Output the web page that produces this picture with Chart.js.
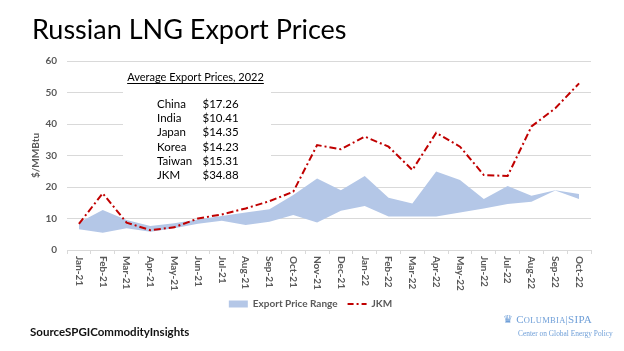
<!DOCTYPE html>
<html>
<head>
<meta charset="utf-8">
<script src="https://cdn.jsdelivr.net/npm/chart.js@4.4.0/dist/chart.umd.min.js"></script>
<style>
  body { margin: 0; background: #fff; }
  .wrap { position: relative; width: 624px; height: 351px; overflow: hidden; font-family: Lato, sans-serif; }
  canvas { position: absolute; left: 0; top: 0; }
  .title { position: absolute; left: 32px; top: 15px; font-size: 27px; line-height: 1; color: #000; white-space: nowrap; }
  .source { position: absolute; left: 30px; top: 326px; font-size: 11.5px; font-weight: bold; line-height: 1; color: #111; white-space: nowrap; }
  .logo { position: absolute; left: 503px; top: 314px; color: #6f9fd8; font-family: 'Liberation Serif', serif; white-space: nowrap; line-height: 1; }
  .logo .l1 { font-size: 11px; letter-spacing: 0.3px; }
  .logo .l1 small { font-size: 8.5px; }
  .logo .crown { font-family: 'DejaVu Sans', sans-serif; font-size: 11px; margin-right: 3px; }
  .logo .l2 { font-size: 7.4px; margin-left: 15px; margin-top: 5px; }
</style>
</head>
<body>
<div class="wrap">
  <canvas id="chart" width="624" height="351"></canvas>
  <div class="title">Russian LNG Export Prices</div>
  <div class="source">SourceSPGICommodityInsights</div>
  <div class="logo">
    <div class="l1"><span class="crown">♛</span>C<small>OLUMBIA</small>|SIPA</div>
    <div class="l2">Center on Global Energy Policy</div>
  </div>
</div>
<script>
const months = ['Jan-21', 'Feb-21', 'Mar-21', 'Apr-21', 'May-21', 'Jun-21', 'Jul-21', 'Aug-21', 'Sep-21', 'Oct-21', 'Nov-21', 'Dec-21',
                'Jan-22', 'Feb-22', 'Mar-22', 'Apr-22', 'May-22', 'Jun-22', 'Jul-22', 'Aug-22', 'Sep-22', 'Oct-22'];

// export price range, low and high edge ($/MMBtu)
const rangeLow  = [6.6, 5.5, 6.9, 5.8, 6.9, 8.3, 9.3, 7.9, 9.0, 11.1, 8.7, 12.5, 14.0, 10.6, 10.6, 10.6, 11.9, 13.2, 14.6, 15.3, 18.9, 16.2];
const rangeHigh = [8.7, 12.7, 9.5, 7.6, 8.5, 9.7, 10.8, 11.9, 12.9, 17.5, 22.7, 19.0, 23.5, 16.6, 14.8, 24.9, 22.2, 16.2, 20.3, 17.2, 19.0, 17.8];
const jkm       = [8.3, 18.0, 8.7, 6.3, 7.2, 10.0, 11.3, 13.2, 15.5, 18.5, 33.3, 32.0, 36.0, 32.8, 25.4, 37.2, 32.8, 23.8, 23.5, 39.2, 45.0, 52.9];

// box: average export prices, 2022
const avgNames  = ['China', 'India', 'Japan', 'Korea', 'Taiwan', 'JKM'];
const avgValues = [17.26, 10.41, 14.35, 14.23, 15.31, 34.88];

const yTicks = [0, 10, 20, 30, 40, 50, 60];

const greyText = '#595959';
const gridColor = '#d9d9d9';
const rangeColor = '#b4c7e7';
const jkmColor = '#c00000';

// white note box with the 2022 averages, drawn over the grid
const notePlugin = {
    id: 'note',
    beforeDatasetsDraw(chart) {
        const ctx = chart.ctx;
        ctx.save();
        ctx.fillStyle = '#fff';
        ctx.fillRect(123, 65, 148, 117);

        ctx.fillStyle = '#000';
        ctx.font = '11px Lato';
        ctx.textBaseline = 'alphabetic';
        ctx.textAlign = 'center';
        const head = 'Average Export Prices, 2022';
        ctx.fillText(head, 195.5, 81);
        const w = ctx.measureText(head).width;
        ctx.fillRect(195.5 - w / 2, 83, w, 1);

        ctx.font = '11.5px Lato';
        ctx.textAlign = 'left';
        avgNames.forEach((name, i) => {
            const y = 108 + i * 14.2;
            ctx.fillText(name, 157, y);
            ctx.fillText('$' + avgValues[i].toFixed(2), 202.5, y);
        });
        ctx.restore();
    }
};

// x labels read top to bottom, which chart.js rotation does not do
const xLabelPlugin = {
    id: 'xLabels',
    afterDraw(chart) {
        const ctx = chart.ctx;
        const xs = chart.scales.x;
        ctx.save();
        ctx.fillStyle = greyText;
        ctx.font = 'bold 10px Lato';
        ctx.textAlign = 'left';
        ctx.textBaseline = 'middle';
        xs.ticks.forEach((t, i) => {
            ctx.save();
            ctx.translate(xs.getPixelForTick(i), xs.top + 6);
            ctx.rotate(Math.PI / 2);
            ctx.fillText(months[i], 0, 0);
            ctx.restore();
        });
        ctx.restore();
    }
};

new Chart(document.getElementById('chart'), {
    type: 'line',
    data: {
        labels: months,
        datasets: [
            {
                label: 'low',
                data: rangeLow,
                borderWidth: 0,
                pointRadius: 0,
                fill: false,
                order: 2
            },
            {
                label: 'Export Price Range',
                data: rangeHigh,
                borderWidth: 0,
                pointRadius: 0,
                backgroundColor: rangeColor,
                fill: '-1',
                order: 1
            },
            {
                label: 'JKM',
                data: jkm,
                borderColor: jkmColor,
                borderWidth: 2,
                borderDash: [7, 3, 2, 3],
                pointRadius: 0,
                fill: false,
                tension: 0,
                order: 0
            }
        ]
    },
    options: {
        responsive: false,
        animation: false,
        devicePixelRatio: 1,
        layout: {
            padding: { left: 30, right: 33, top: 61, bottom: 32 }
        },
        plugins: {
            tooltip: { enabled: false },
            title: { display: false },
            legend: {
                position: 'bottom',
                labels: {
                    usePointStyle: true,
                    pointStyleWidth: 19,
                    boxHeight: 7,
                    padding: 10,
                    color: greyText,
                    font: { family: 'Lato', size: 10, weight: 'bold' },
                    generateLabels: () => [
                        { text: 'Export Price Range', fillStyle: rangeColor, strokeStyle: rangeColor, lineWidth: 0, pointStyle: 'rect', fontColor: greyText, datasetIndex: 1 },
                        { text: 'JKM', fillStyle: jkmColor, strokeStyle: jkmColor, lineWidth: 2, lineDash: [6, 3, 2, 3], pointStyle: 'line', fontColor: greyText, datasetIndex: 2 }
                    ]
                }
            }
        },
        scales: {
            x: {
                offset: true,
                afterFit: (s) => { s.height = 39; },
                grid: {
                    offset: true,
                    drawOnChartArea: false,
                    drawTicks: true,
                    tickLength: 4,
                    color: gridColor
                },
                border: { color: gridColor },
                ticks: { color: 'transparent', minRotation: 90, maxRotation: 90, autoSkip: false, font: { size: 9 } }
            },
            y: {
                min: 0,
                max: 60,
                afterFit: (s) => { s.width = 37; },
                afterBuildTicks: (s) => { s.ticks = yTicks.map(v => ({ value: v })); },
                grid: { color: gridColor, drawTicks: false },
                border: { display: false },
                ticks: {
                    color: greyText,
                    padding: 10,
                    font: { family: 'Lato', size: 10, weight: 'bold' }
                },
                title: {
                    display: true,
                    text: '$/MMBtu',
                    color: greyText,
                    padding: { top: 0, bottom: 0 },
                    font: { family: 'Lato', size: 10, weight: 'bold' }
                }
            }
        }
    },
    plugins: [notePlugin, xLabelPlugin]
});
</script>
</body>
</html>
